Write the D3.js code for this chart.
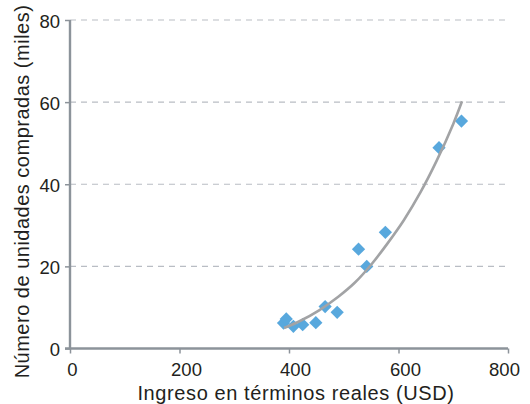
<!DOCTYPE html>
<html>
<head>
<meta charset="utf-8">
<script src="https://cdn.jsdelivr.net/npm/d3@7"></script>
<style>
  html, body { margin: 0; padding: 0; background: #fff; }
  svg text { font-family: "Liberation Sans", Arial, sans-serif; fill: #231f20; }
</style>
</head>
<body>
<svg id="chart" width="530" height="404"></svg>
<script>
// Observations: real income (USD) vs units bought (thousands)
const incomeUSD = [390, 395, 408, 425, 449, 466, 488, 527, 542, 576, 674, 715];
const unitsThousands = [6.2, 7.2, 5.4, 5.8, 6.3, 10.2, 8.8, 24.2, 20.0, 28.3, 48.9, 55.4];

// Trend curve through the cloud
const trendX = [391, 420, 455, 490, 520, 550, 580, 610, 640, 670, 700, 716];
const trendY = [5.0, 6.7, 9.3, 12.6, 16.0, 20.4, 25.6, 31.3, 38.0, 45.8, 54.7, 60.2];

const xTicks = [0, 200, 400, 600, 800];
const yTicks = [0, 20, 40, 60, 80];
const yGrid = [20, 40, 60, 80];

const xTitle = "Ingreso en términos reales (USD)";
const yTitle = "Número de unidades compradas (miles)";

const svg = d3.select("#chart");
const plotLeft = 70, plotRight = 508, plotTop = 20, plotBottom = 348.5;

const x = d3.scaleLinear().domain([0, 800]).range([plotLeft, plotRight]);
const y = d3.scaleLinear().domain([0, 80]).range([plotBottom, plotTop]);

const axisColor = "#8c939a";
const font = "Liberation Sans, Arial, sans-serif";

// dashed horizontal grid
svg.append("g").selectAll("line").data(yGrid).join("line")
  .attr("x1", plotLeft).attr("x2", plotRight)
  .attr("y1", d => y(d)).attr("y2", d => y(d))
  .attr("stroke", "#b9bdc4").attr("stroke-width", 1.2)
  .attr("stroke-dasharray", "6,5");

// y axis
const yAxis = svg.append("g").attr("transform", `translate(${plotLeft},0)`)
  .call(d3.axisLeft(y).tickValues(yTicks).tickSize(5).tickPadding(5).tickFormat(d3.format("d")));
yAxis.select(".domain").attr("stroke", axisColor).attr("stroke-width", 2.4)
  .attr("d", `M0,${plotTop}V${plotBottom}`);
yAxis.selectAll(".tick line").attr("stroke", axisColor).attr("stroke-width", 1.5);
yAxis.selectAll(".tick text").attr("font-size", 18.5).attr("fill", "#231f20")
  .attr("font-family", font).attr("dy", "0.4em");

// x axis
const xLabelNudge = [2, 6.5, 6, 6.5, -4];
const xAxis = svg.append("g").attr("transform", `translate(0,${plotBottom})`)
  .call(d3.axisBottom(x).tickValues(xTicks).tickSize(5).tickPadding(9).tickFormat(d3.format("d")));
xAxis.select(".domain").attr("stroke", axisColor).attr("stroke-width", 2.4)
  .attr("d", `M${plotLeft - 5},0H${plotRight}`);
xAxis.selectAll(".tick line").attr("stroke", axisColor).attr("stroke-width", 1.5);
xAxis.selectAll(".tick text").attr("font-size", 18.5).attr("fill", "#231f20")
  .attr("font-family", font).attr("dx", (d, i) => xLabelNudge[i]);

// axis titles
svg.append("text").attr("x", 296).attr("y", 400)
  .attr("text-anchor", "middle").attr("font-size", 20)
  .attr("letter-spacing", 0.6).text(xTitle);
svg.append("text")
  .attr("transform", `translate(29,191.5) rotate(-90)`)
  .attr("text-anchor", "middle").attr("font-size", 20)
  .attr("letter-spacing", 0.5).text(yTitle);

// scatter diamonds
const diamond = d3.symbol().type(d3.symbolSquare).size(88);
svg.append("g").selectAll("path").data(incomeUSD).join("path")
  .attr("d", diamond)
  .attr("transform", (d, i) => `translate(${x(d)},${y(unitsThousands[i])}) rotate(45)`)
  .attr("fill", "#58a8dd");

// trend curve
const trend = trendX.map((d, i) => [d, trendY[i]]);
svg.append("path").datum(trend)
  .attr("fill", "none").attr("stroke", "#a2a3a5").attr("stroke-width", 2.6)
  .attr("d", d3.line().x(d => x(d[0])).y(d => y(d[1])).curve(d3.curveCatmullRom));
</script>
</body>
</html>
